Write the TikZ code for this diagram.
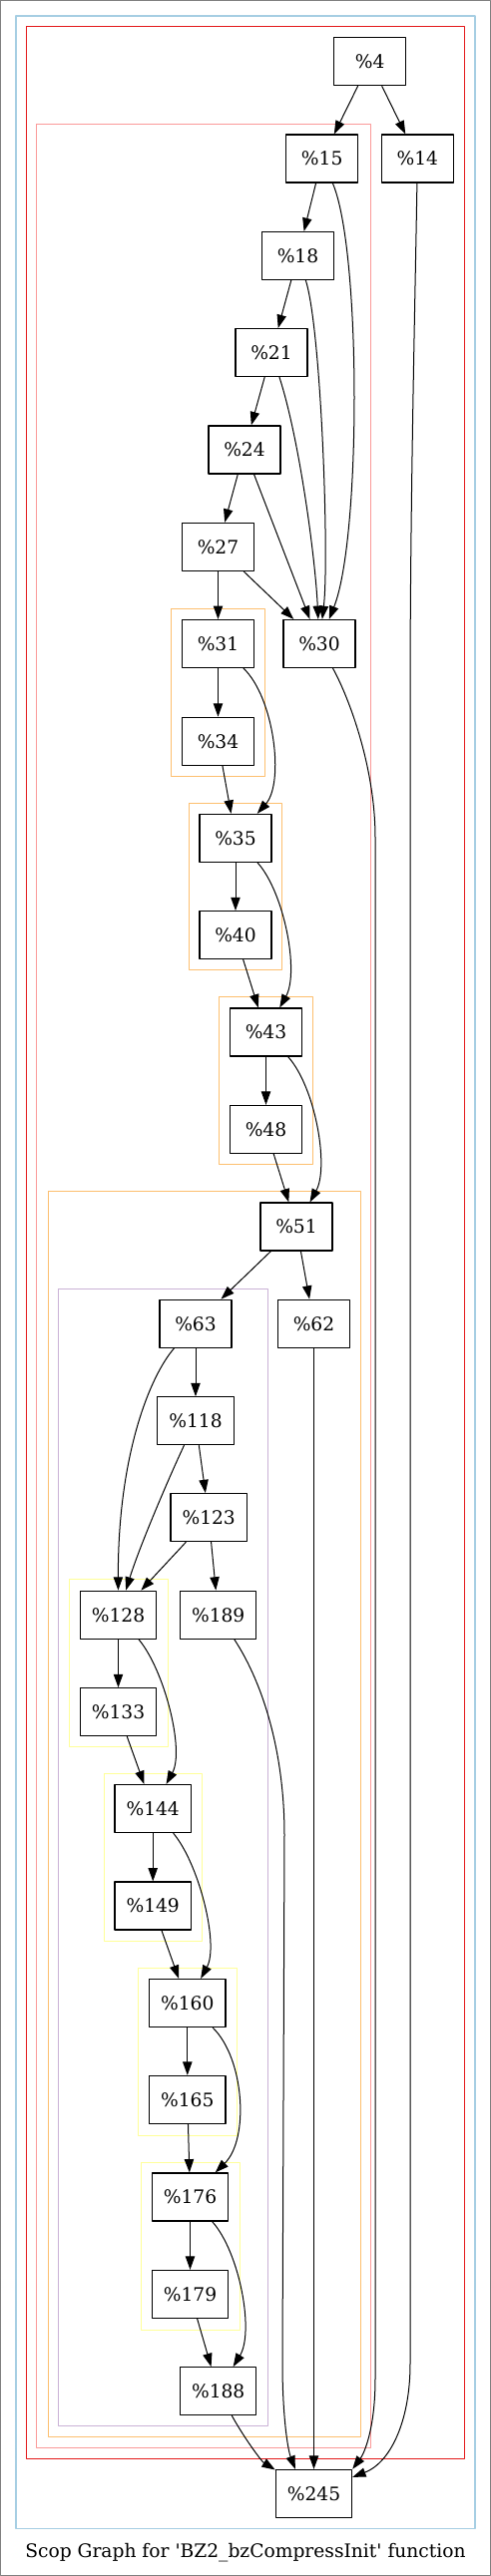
\documentclass[tikz,border=0pt]{standalone}
\usepackage{fontspec}
\setmainfont{DejaVu Serif}
\usetikzlibrary{arrows.meta}
\definecolor{regblue}{HTML}{A6CEE3}
\definecolor{regred}{HTML}{E31A1C}
\definecolor{regpink}{HTML}{FB9A99}
\definecolor{regorange}{HTML}{FDBF6F}
\definecolor{regpurple}{HTML}{CAB2D6}
\definecolor{regyellow}{HTML}{FFFF99}
\begin{document}
\begin{tikzpicture}[x=0.75pt, y=-0.75pt, >={Triangle[length=10pt, width=7pt]}, line cap=round, line join=round,
  block/.style={draw, line width=0.9pt, minimum width=54pt, minimum height=36pt, inner xsep=8.6pt, font=\fontsize{14}{16}\selectfont},
  edge/.style={->, line width=0.75pt},
  region/.style={line width=0.75pt}]
  \useasboundingbox (0,0) rectangle (492,2583);
  \draw[gray, line width=1pt] (0.7,0.7) rectangle (491.3,2582.3);

  % Regions
  \draw[region, regblue, line width=1.1pt] (16,16) rectangle (476,2535.4);
  \draw[region, regred] (26.7,26.8) rectangle (465,2465.1);
  \draw[region, regpink] (36.7,124.1) rectangle (371.7,2454.6);
  \draw[region, regorange] (171.7,610.3) rectangle (265.3,778.6);
  \draw[region, regorange] (189,805.4) rectangle (282.7,972.8);
  \draw[region, regorange] (219.7,999.6) rectangle (313,1167.9);
  \draw[region, regorange] (48,1194.6) rectangle (361.3,2443.3);
  \draw[region, regpurple] (58.7,1292) rectangle (268,2432.8);
  \draw[region, regyellow] (69.3,1583.5) rectangle (168,1751.8);
  \draw[region, regyellow] (104,1778.6) rectangle (202.7,1946);
  \draw[region, regyellow] (138.7,1973) rectangle (237,2141);
  \draw[region, regyellow] (141.3,2168) rectangle (240,2336);

  % Blocks
  \node[block] (n4) at (370.7,61.8) {\%4};
  \node[block] (n15) at (322.7,159) {\%15};
  \node[block] (n14) at (418.3,159) {\%14};
  \node[block] (n18) at (298.5,256.5) {\%18};
  \node[block] (n21) at (272,353.6) {\%21};
  \node[block] (n24) at (245,450.9) {\%24};
  \node[block] (n27) at (218.5,548.4) {\%27};
  \node[block] (n31) at (218.5,645.5) {\%31};
  \node[block] (n30) at (320,645.5) {\%30};
  \node[block] (n34) at (218.5,743.3) {\%34};
  \node[block] (n35) at (236,840.4) {\%35};
  \node[block] (n40) at (236,937.7) {\%40};
  \node[block] (n43) at (266.5,1035) {\%43};
  \node[block] (n48) at (266.5,1132.4) {\%48};
  \node[block] (n51) at (297,1230) {\%51};
  \node[block] (n63) at (196,1327.2) {\%63};
  \node[block] (n62) at (314.5,1327.2) {\%62};
  \node[block] (n118) at (196,1424.8) {\%118};
  \node[block] (n123) at (209.2,1521.7) {\%123};
  \node[block] (n128) at (118.5,1619.2) {\%128};
  \node[block] (n189) at (218.7,1619.2) {\%189};
  \node[block] (n133) at (118.5,1716.7) {\%133};
  \node[block] (n144) at (153.2,1813.6) {\%144};
  \node[block] (n149) at (153.2,1911) {\%149};
  \node[block] (n160) at (187.8,2008.5) {\%160};
  \node[block] (n165) at (187.8,2105.4) {\%165};
  \node[block] (n176) at (190.5,2203) {\%176};
  \node[block] (n179) at (190.5,2300.4) {\%179};
  \node[block] (n188) at (218.7,2397.7) {\%188};
  \node[block] (n245) at (314.5,2500.4) {\%245};

  % Straight edges
  \foreach \a/\b in {n4/n15, n4/n14, n15/n18, n18/n21, n21/n24, n24/n27, n24/n30, n27/n31, n27/n30,
                     n31/n34, n34/n35, n35/n40, n40/n43, n43/n48, n48/n51, n51/n63, n51/n62,
                     n63/n118, n118/n123, n123/n128, n123/n189, n128/n133, n133/n144, n144/n149,
                     n149/n160, n160/n165, n165/n176, n176/n179, n179/n188, n62/n245}
    \draw[edge] (\a) -- (\b);

  % Curved edges
  \draw[edge] (n15) .. controls (362,250) and (362,540) .. (n30);
  \draw[edge] (n18) .. controls (322,330) and (330,560) .. (n30);
  \draw[edge] (n21) .. controls (300,440) and (316,560) .. (n30);
  \draw[edge] (n31) .. controls (275,700) and (285,785) .. (n35);
  \draw[edge] (n35) .. controls (285,895) and (300,975) .. (n43);
  \draw[edge] (n43) .. controls (316,1090) and (330,1170) .. (n51);
  \draw[edge] (n63) .. controls (150,1380) and (118,1460) .. (n128);
  \draw[edge] (n118) .. controls (170,1480) and (140,1550) .. (n128);
  \draw[edge] (n128) .. controls (165,1675) and (185,1755) .. (n144);
  \draw[edge] (n144) .. controls (199.7,1869.4) and (219.6,1949.9) .. (n160);
  \draw[edge] (n160) .. controls (245,2064) and (250,2145) .. (n176);
  \draw[edge] (n176) .. controls (240,2258) and (255,2338) .. (n188);
  \draw[edge] (n188) .. controls (245,2445) and (262,2468) .. (n245);

  % Long edges to the exit block
  \draw[edge] (n189) .. controls (265,1690) and (285,1760) .. (285,1840) -- (283,2370)
    .. controls (283,2420) and (288,2455) .. ([xshift=-14pt]n245.north);
  \draw[edge] (n30) .. controls (350,700) and (376,770) .. (376,840) -- (376,2385)
    .. controls (376,2435) and (365,2460) .. (n245.north east);
  \draw[edge] (n14) .. controls (416,300) and (411,500) .. (411,700) -- (411,2370)
    .. controls (411,2430) and (390,2470) .. ([yshift=-6pt]n245.north east);

  % Caption
  \node[font=\fontsize{14}{16}\selectfont] (caption) at (246,2560) {Scop Graph for \textquotesingle BZ2\_bzCompressInit\textquotesingle{} function};
\end{tikzpicture}
\end{document}
